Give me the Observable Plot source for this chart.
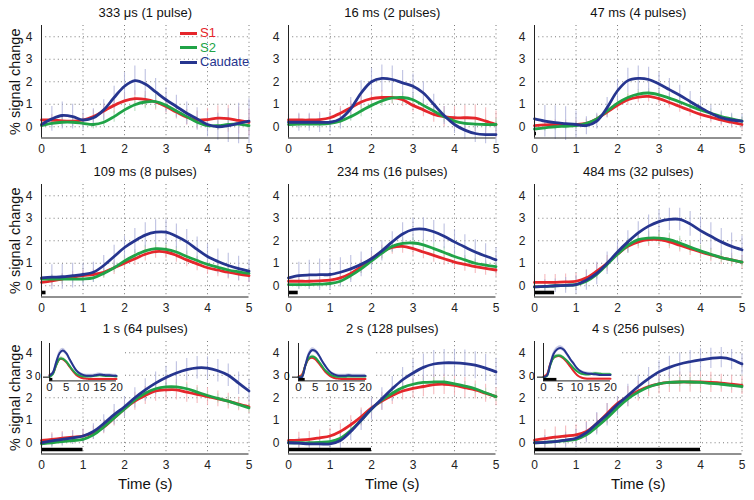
<!DOCTYPE html>
<html><head><meta charset="utf-8">
<script src="https://cdn.jsdelivr.net/npm/d3@7"></script>
<script src="https://cdn.jsdelivr.net/npm/@observablehq/plot@0.6"></script>
<style>
body{margin:0;background:#fff;font-family:"Liberation Sans",Arial,sans-serif;}
#fig{position:relative;width:754px;height:500px;overflow:hidden;background:#fff;}
#fig > svg, #fig > div{position:absolute;}
</style></head><body><div id="fig"></div>
<script>
// ---------------- data ----------------
const times = [0,0.25,0.5,0.75,1,1.25,1.5,1.75,2,2.25,2.5,2.75,3,3.25,3.5,3.75,4,4.25,4.5,4.75,5];
const insetTimes = [0,1,2,3,4,5,6,7,8,9,10,11,12,13,14,15,16,17,18,19,20];
const panelTitles = ["333 μs (1 pulse)","16 ms (2 pulses)","47 ms (4 pulses)","109 ms (8 pulses)","234 ms (16 pulses)","484 ms (32 pulses)","1 s (64 pulses)","2 s (128 pulses)","4 s (256 pulses)"];
const stimDurations = [0.000333,0.016,0.047,0.109,0.234,0.484,1,2,4];
const seriesNames = ["S1","S2","Caudate"];
const xTicks = [0,1,2,3,4,5];
const yTicks = [0,1,2,3,4];
const insetXTicks = [0,5,10,15,20];

const s1 = [
 [0.30,0.30,0.26,0.25,0.30,0.45,0.70,0.95,1.15,1.25,1.22,1.10,0.90,0.65,0.42,0.30,0.32,0.38,0.36,0.28,0.20],
 [0.30,0.30,0.30,0.32,0.40,0.60,0.85,1.10,1.25,1.30,1.30,1.20,0.95,0.75,0.55,0.45,0.40,0.40,0.38,0.25,0.10],
 [0.05,0.08,0.10,0.10,0.10,0.15,0.35,0.65,0.95,1.20,1.32,1.35,1.25,1.08,0.90,0.72,0.55,0.42,0.30,0.20,0.10],
 [0.15,0.22,0.30,0.38,0.45,0.50,0.60,0.80,1.00,1.20,1.40,1.52,1.50,1.35,1.15,0.97,0.80,0.70,0.60,0.52,0.45],
 [0.20,0.20,0.20,0.22,0.25,0.35,0.55,0.85,1.20,1.50,1.70,1.75,1.65,1.50,1.35,1.20,1.05,0.95,0.85,0.77,0.70],
 [0.15,0.15,0.15,0.17,0.20,0.35,0.65,1.00,1.40,1.75,1.95,2.05,2.05,1.95,1.80,1.65,1.50,1.37,1.25,1.15,1.05],
 [0.10,0.15,0.20,0.25,0.30,0.45,0.70,1.10,1.50,1.85,2.10,2.30,2.35,2.35,2.25,2.15,2.05,1.95,1.85,1.72,1.60],
 [0.10,0.12,0.15,0.22,0.30,0.50,0.80,1.15,1.55,1.85,2.10,2.30,2.42,2.50,2.58,2.60,2.55,2.45,2.35,2.20,2.05],
 [0.12,0.18,0.25,0.30,0.35,0.50,0.85,1.30,1.75,2.05,2.30,2.50,2.62,2.68,2.70,2.70,2.70,2.68,2.65,2.60,2.55]
];
const s2 = [
 [0.05,0.15,0.20,0.20,0.15,0.10,0.20,0.45,0.75,0.98,1.10,1.12,0.95,0.70,0.45,0.20,0.05,0.05,0.10,0.12,0.05],
 [0.10,0.12,0.12,0.12,0.15,0.25,0.45,0.70,0.95,1.15,1.28,1.30,1.20,0.95,0.70,0.45,0.25,0.15,0.12,0.10,0.10],
 [-0.10,-0.05,0.00,0.02,0.05,0.15,0.35,0.70,1.05,1.30,1.45,1.50,1.42,1.27,1.10,0.92,0.75,0.60,0.45,0.35,0.25],
 [0.30,0.30,0.30,0.30,0.30,0.35,0.55,0.80,1.10,1.35,1.55,1.65,1.62,1.50,1.30,1.12,0.95,0.82,0.70,0.62,0.55],
 [0.05,0.05,0.05,0.07,0.10,0.20,0.45,0.75,1.10,1.45,1.75,1.88,1.90,1.82,1.65,1.48,1.30,1.15,1.00,0.92,0.85],
 [-0.05,-0.03,0.00,0.02,0.05,0.20,0.50,0.95,1.40,1.80,2.05,2.12,2.12,2.05,1.90,1.72,1.55,1.40,1.25,1.15,1.05],
 [-0.05,0.00,0.05,0.10,0.15,0.35,0.70,1.10,1.50,1.90,2.20,2.40,2.48,2.48,2.40,2.25,2.10,1.97,1.85,1.70,1.55],
 [0.00,0.00,0.00,0.02,0.05,0.20,0.55,1.00,1.50,1.90,2.20,2.45,2.60,2.68,2.70,2.70,2.62,2.52,2.40,2.22,2.05],
 [0.00,0.02,0.05,0.10,0.15,0.35,0.70,1.10,1.55,1.95,2.25,2.48,2.62,2.68,2.70,2.70,2.68,2.64,2.60,2.55,2.50]
];
const caudate = [
 [0.10,0.35,0.50,0.45,0.30,0.40,0.75,1.30,1.80,2.05,1.90,1.55,1.20,0.90,0.60,0.35,0.10,0.00,0.05,0.15,0.25],
 [0.20,0.20,0.20,0.20,0.20,0.35,0.80,1.50,2.00,2.15,2.10,1.95,1.80,1.50,1.00,0.50,0.10,-0.15,-0.30,-0.35,-0.35],
 [0.35,0.25,0.18,0.14,0.10,0.05,0.25,0.85,1.60,2.05,2.15,2.10,1.90,1.65,1.40,1.12,0.85,0.60,0.40,0.30,0.25],
 [0.35,0.38,0.40,0.45,0.50,0.60,0.90,1.30,1.70,2.00,2.25,2.38,2.38,2.20,1.95,1.62,1.30,1.08,0.90,0.76,0.65],
 [0.35,0.45,0.48,0.49,0.50,0.60,0.75,0.95,1.20,1.55,1.95,2.30,2.50,2.52,2.40,2.20,1.95,1.72,1.50,1.32,1.15],
 [-0.05,-0.03,0.00,0.02,0.05,0.25,0.55,1.00,1.50,1.95,2.35,2.65,2.85,2.95,2.95,2.75,2.45,2.20,1.95,1.75,1.60],
 [0.00,0.08,0.15,0.22,0.30,0.50,0.85,1.25,1.60,2.00,2.35,2.65,2.90,3.10,3.25,3.33,3.32,3.20,3.00,2.65,2.30],
 [0.00,-0.02,-0.05,-0.05,-0.05,0.10,0.50,1.00,1.50,1.95,2.40,2.80,3.10,3.35,3.50,3.55,3.55,3.52,3.45,3.32,3.15],
 [0.00,0.02,0.05,0.12,0.20,0.45,0.85,1.25,1.70,2.10,2.50,2.85,3.15,3.35,3.50,3.60,3.68,3.75,3.78,3.70,3.50]
];
const s1Err = [
 [0.25,0.25,0.25,0.25,0.25,0.30,0.30,0.35,0.35,0.35,0.35,0.35,0.30,0.30,0.35,0.40,0.50,0.55,0.60,0.60,0.60],
 [0.25,0.25,0.25,0.25,0.30,0.30,0.30,0.30,0.30,0.30,0.30,0.30,0.30,0.30,0.35,0.45,0.50,0.55,0.60,0.60,0.60],
 [0.20,0.20,0.20,0.20,0.20,0.20,0.20,0.25,0.25,0.25,0.25,0.25,0.25,0.25,0.25,0.25,0.25,0.25,0.25,0.25,0.25],
 [0.25,0.25,0.25,0.25,0.25,0.25,0.25,0.30,0.30,0.30,0.30,0.30,0.30,0.30,0.30,0.30,0.30,0.30,0.30,0.30,0.30],
 [0.25,0.25,0.25,0.25,0.25,0.25,0.25,0.30,0.30,0.30,0.30,0.30,0.30,0.30,0.30,0.30,0.30,0.30,0.30,0.30,0.30],
 [0.35,0.35,0.35,0.35,0.35,0.35,0.35,0.35,0.35,0.30,0.30,0.30,0.30,0.30,0.30,0.30,0.30,0.30,0.30,0.30,0.30],
 [0.30,0.30,0.30,0.30,0.30,0.30,0.30,0.35,0.35,0.40,0.40,0.45,0.45,0.45,0.45,0.40,0.40,0.35,0.35,0.30,0.30],
 [0.35,0.35,0.35,0.35,0.35,0.35,0.40,0.40,0.40,0.40,0.40,0.40,0.45,0.45,0.45,0.45,0.45,0.45,0.40,0.40,0.40],
 [0.40,0.40,0.45,0.45,0.45,0.45,0.45,0.45,0.45,0.45,0.45,0.45,0.45,0.45,0.45,0.45,0.45,0.45,0.40,0.40,0.40]
];
const s2Err = [
 [0.20,0.20,0.20,0.20,0.20,0.20,0.20,0.25,0.25,0.30,0.30,0.30,0.25,0.25,0.20,0.20,0.20,0.20,0.20,0.20,0.20],
 [0.20,0.20,0.20,0.20,0.20,0.20,0.20,0.25,0.25,0.25,0.25,0.25,0.25,0.25,0.25,0.25,0.25,0.25,0.25,0.25,0.25],
 [0.15,0.15,0.15,0.15,0.15,0.15,0.15,0.20,0.20,0.20,0.20,0.20,0.20,0.20,0.20,0.20,0.20,0.20,0.20,0.20,0.20],
 [0.20,0.20,0.20,0.20,0.20,0.20,0.20,0.20,0.25,0.25,0.25,0.25,0.25,0.25,0.25,0.20,0.20,0.20,0.20,0.20,0.20],
 [0.20,0.20,0.20,0.20,0.20,0.20,0.20,0.20,0.20,0.25,0.25,0.25,0.25,0.25,0.25,0.25,0.25,0.20,0.20,0.20,0.20],
 [0.20,0.20,0.20,0.20,0.20,0.20,0.20,0.20,0.25,0.30,0.30,0.30,0.30,0.30,0.30,0.25,0.25,0.25,0.20,0.20,0.20],
 [0.15,0.15,0.15,0.15,0.15,0.15,0.20,0.20,0.20,0.20,0.20,0.20,0.20,0.20,0.20,0.20,0.20,0.20,0.20,0.20,0.20],
 [0.15,0.15,0.15,0.15,0.15,0.15,0.20,0.20,0.20,0.20,0.20,0.20,0.20,0.20,0.20,0.20,0.20,0.20,0.20,0.20,0.20],
 [0.15,0.15,0.15,0.15,0.15,0.20,0.20,0.20,0.20,0.20,0.20,0.20,0.20,0.20,0.20,0.20,0.20,0.20,0.20,0.20,0.20]
];
const caudateErr = [
 [0.50,0.55,0.60,0.55,0.45,0.40,0.45,0.50,0.60,0.65,0.65,0.60,0.55,0.50,0.50,0.50,0.55,0.60,0.75,0.90,1.00],
 [0.35,0.40,0.40,0.45,0.45,0.45,0.50,0.55,0.60,0.60,0.60,0.55,0.55,0.50,0.45,0.40,0.40,0.40,0.40,0.40,0.40],
 [0.65,0.70,0.75,0.75,0.60,0.40,0.35,0.45,0.50,0.55,0.55,0.55,0.50,0.50,0.45,0.45,0.40,0.35,0.30,0.30,0.30],
 [0.50,0.55,0.55,0.55,0.50,0.45,0.45,0.50,0.50,0.55,0.55,0.55,0.55,0.55,0.55,0.55,0.55,0.55,0.55,0.55,0.50],
 [0.55,0.60,0.65,0.70,0.70,0.65,0.60,0.55,0.50,0.45,0.45,0.50,0.50,0.50,0.50,0.55,0.55,0.55,0.55,0.55,0.55],
 [0.30,0.30,0.30,0.35,0.40,0.45,0.50,0.50,0.50,0.50,0.50,0.50,0.50,0.50,0.50,0.55,0.60,0.60,0.60,0.60,0.60],
 [0.30,0.30,0.30,0.30,0.30,0.35,0.40,0.45,0.45,0.45,0.50,0.50,0.50,0.50,0.50,0.50,0.50,0.50,0.50,0.50,0.50],
 [0.25,0.25,0.25,0.25,0.30,0.35,0.40,0.45,0.50,0.50,0.55,0.55,0.60,0.60,0.60,0.60,0.60,0.60,0.60,0.60,0.60],
 [0.30,0.30,0.30,0.35,0.40,0.45,0.50,0.50,0.50,0.50,0.50,0.50,0.50,0.50,0.50,0.50,0.50,0.45,0.45,0.45,0.45]
];

// insets (0-20 s) for the 1 s, 2 s and 4 s panels
const insetS1 = [
 [0.30,0.50,1.60,2.40,2.40,2.00,1.40,0.80,0.30,0.00,-0.15,-0.20,-0.25,-0.25,-0.25,-0.25,-0.25,-0.25,-0.25,-0.25,-0.25],
 [0.10,0.30,1.50,2.40,2.60,2.40,1.90,1.30,0.70,0.30,0.00,-0.15,-0.20,-0.25,-0.25,-0.25,-0.25,-0.25,-0.25,-0.25,-0.25],
 [0.10,0.35,1.75,2.60,2.80,2.80,2.50,2.00,1.40,0.80,0.30,0.00,-0.15,-0.20,-0.20,-0.20,-0.20,-0.20,-0.20,-0.20,-0.20]
];
const insetS2 = [
 [0.00,0.40,1.60,2.45,2.45,2.10,1.50,0.90,0.45,0.20,0.10,0.10,0.10,0.15,0.20,0.25,0.20,0.15,0.15,0.15,0.10],
 [0.00,0.10,1.50,2.50,2.75,2.60,2.10,1.50,0.90,0.50,0.20,0.10,0.05,0.05,0.05,0.10,0.10,0.10,0.10,0.10,0.10],
 [0.00,0.15,1.55,2.60,2.85,2.85,2.60,2.20,1.70,1.20,0.80,0.50,0.40,0.35,0.40,0.50,0.50,0.45,0.40,0.40,0.40]
];
const insetCaudate = [
 [0.20,0.60,2.00,3.20,3.55,3.20,2.40,1.60,0.90,0.50,0.30,0.20,0.20,0.20,0.30,0.35,0.30,0.25,0.25,0.20,0.20],
 [0.00,0.00,1.50,3.00,3.60,3.50,3.00,2.20,1.50,0.90,0.50,0.30,0.20,0.20,0.20,0.25,0.20,0.20,0.20,0.20,0.20],
 [0.00,0.20,1.70,3.10,3.70,3.90,3.70,3.10,2.40,1.80,1.20,0.80,0.60,0.50,0.45,0.40,0.35,0.30,0.30,0.30,0.30]
];
const insetS1Err = [
 [0.10,0.10,0.15,0.20,0.20,0.20,0.20,0.15,0.15,0.10,0.10,0.10,0.10,0.10,0.10,0.10,0.10,0.10,0.10,0.10,0.10],
 [0.10,0.10,0.15,0.20,0.20,0.20,0.20,0.15,0.15,0.10,0.10,0.10,0.10,0.10,0.10,0.10,0.10,0.10,0.10,0.10,0.10],
 [0.10,0.10,0.15,0.20,0.20,0.20,0.20,0.20,0.15,0.15,0.10,0.10,0.10,0.10,0.10,0.10,0.10,0.10,0.10,0.10,0.10]
];
const insetS2Err = [
 [0.10,0.10,0.15,0.20,0.20,0.20,0.20,0.20,0.15,0.15,0.15,0.15,0.15,0.15,0.15,0.15,0.15,0.15,0.15,0.15,0.15],
 [0.10,0.10,0.15,0.20,0.20,0.20,0.20,0.20,0.15,0.15,0.15,0.15,0.15,0.15,0.15,0.15,0.15,0.15,0.15,0.15,0.15],
 [0.10,0.10,0.15,0.20,0.20,0.20,0.20,0.20,0.20,0.15,0.15,0.15,0.15,0.15,0.15,0.15,0.15,0.15,0.15,0.15,0.15]
];
const insetCaudateErr = [
 [0.10,0.15,0.25,0.30,0.30,0.30,0.25,0.25,0.20,0.20,0.20,0.20,0.20,0.20,0.20,0.20,0.20,0.20,0.20,0.20,0.20],
 [0.10,0.15,0.25,0.30,0.30,0.30,0.30,0.25,0.25,0.20,0.20,0.20,0.20,0.20,0.20,0.20,0.20,0.20,0.20,0.20,0.20],
 [0.10,0.15,0.25,0.30,0.30,0.30,0.30,0.30,0.25,0.25,0.20,0.20,0.20,0.20,0.20,0.20,0.20,0.20,0.20,0.20,0.20]
];

// ---------------- styling / layout ----------------
const X_DOMAIN = [0,5], Y_DOMAIN = [-0.5,4.5], INSET_X_DOMAIN = [0,20], STIM_Y = -0.3;
const FONT = "'Liberation Sans', Arial, Helvetica, sans-serif";
const series = [
  {name: seriesNames[0], mean: s1, err: s1Err, imean: insetS1, ierr: insetS1Err, color: "#e5262b", light: "#f3a9ae"},
  {name: seriesNames[1], mean: s2, err: s2Err, imean: insetS2, ierr: insetS2Err, color: "#20a347", light: "#a8dab3"},
  {name: seriesNames[2], mean: caudate, err: caudateErr, imean: insetCaudate, ierr: insetCaudateErr, color: "#26358f", light: "#aeb1da"}
];
const colX0 = [40.7, 288.3, 534.3];   // pixel of t=0 per column
const rowYTop = [25.4, 183.7, 341.4];  // pixel of top of frame per row
const FW = 207.5, FH = 112.5;          // frame size
const insetLeft = [48.5, 298.3, 543.3], INSET_TOP = 343.3, INSET_W = 67, INSET_H = 37.4;

const fig = document.getElementById("fig");

function makePanel(i) {
  const r = Math.floor(i / 3), c = i % 3;
  const ml = 40, mr = 6, mt = 25, mb = r === 2 ? 46 : 22;
  const marks = [];
  marks.push(Plot.ruleY(yTicks, {stroke: "#6a6a6a", strokeWidth: 0.9, strokeDasharray: "1,3.2"}));
  marks.push(Plot.ruleX(xTicks.filter(d => d > X_DOMAIN[0]), {stroke: "#6a6a6a", strokeWidth: 0.9, strokeDasharray: "1,3.2"}));
  for (const s of series) {
    const rows = times.map((t, j) => ({t, lo: s.mean[i][j] - s.err[i][j], hi: s.mean[i][j] + s.err[i][j]}));
    marks.push(Plot.ruleX(rows, {x: "t", y1: "lo", y2: "hi", stroke: s.light, strokeWidth: 1.1, strokeOpacity: 0.8}));
  }
  for (const s of series) {
    const rows = times.map((t, j) => ({t, v: s.mean[i][j]}));
    marks.push(Plot.line(rows, {x: "t", y: "v", stroke: s.color, strokeWidth: 2.8, curve: "catmull-rom"}));
  }
  marks.push(Plot.ruleY([{x1: 0, x2: stimDurations[i], y: STIM_Y}], {x1: "x1", x2: "x2", y: "y", stroke: "#000", strokeWidth: 3.6}));
  marks.push(Plot.ruleX([X_DOMAIN[0]], {stroke: "#222", strokeWidth: 1}));
  marks.push(Plot.ruleY([Y_DOMAIN[0]], {stroke: "#222", strokeWidth: 1}));
  marks.push(Plot.axisX(xTicks, {tickSize: 0, tickPadding: 6, fontSize: 12, label: null, fill: "#222"}));
  marks.push(Plot.axisY(yTicks, {tickSize: 0, tickPadding: 9, fontSize: 12, label: null, fill: "#222"}));
  marks.push(Plot.text([panelTitles[i]], {text: d => d, frameAnchor: "top", lineAnchor: "middle", textAnchor: "middle", dy: -12.5, fontSize: 13, fill: "#111"}));
  if (c === 0) marks.push(Plot.text(["% signal change"], {text: d => d, frameAnchor: "left", textAnchor: "middle", lineAnchor: "middle", rotate: -90, dx: -26, fontSize: 14.5, fill: "#111"}));
  if (r === 2) marks.push(Plot.text(["Time (s)"], {text: d => d, frameAnchor: "bottom", textAnchor: "middle", lineAnchor: "middle", dy: 30, fontSize: 15, fill: "#111"}));
  const svg = Plot.plot({
    width: ml + FW + mr, height: mt + FH + mb,
    marginLeft: ml, marginRight: mr, marginTop: mt, marginBottom: mb,
    x: {domain: X_DOMAIN}, y: {domain: Y_DOMAIN},
    style: {background: "transparent", fontFamily: FONT, overflow: "visible"},
    marks
  });
  svg.style.left = (colX0[c] - ml) + "px";
  svg.style.top = (rowYTop[r] - mt) + "px";
  fig.appendChild(svg);
}

function makeInset(k) {
  const i = 6 + k;
  const ml = 6, mr = 9, mt = 3, mb = 15;
  const marks = [];
  for (const s of series) {
    const rows = insetTimes.map((t, j) => ({t, lo: s.imean[k][j] - s.ierr[k][j], hi: s.imean[k][j] + s.ierr[k][j]}));
    marks.push(Plot.areaY(rows, {x: "t", y1: "lo", y2: "hi", fill: s.light, fillOpacity: 0.7, curve: "catmull-rom"}));
  }
  for (const s of series) {
    const rows = insetTimes.map((t, j) => ({t, v: s.imean[k][j]}));
    marks.push(Plot.line(rows, {x: "t", y: "v", stroke: s.color, strokeWidth: 2, curve: "catmull-rom"}));
  }
  marks.push(Plot.ruleY([{x1: 0, x2: stimDurations[i], y: STIM_Y}], {x1: "x1", x2: "x2", y: "y", stroke: "#000", strokeWidth: 3}));
  marks.push(Plot.ruleX([INSET_X_DOMAIN[0]], {stroke: "#222", strokeWidth: 1}));
  marks.push(Plot.ruleY([Y_DOMAIN[0]], {stroke: "#222", strokeWidth: 1}));
  marks.push(Plot.axisX(insetXTicks, {tickSize: 0, tickPadding: 2, fontSize: 11.5, label: null, fill: "#222"}));
  const svg = Plot.plot({
    width: ml + INSET_W + mr, height: mt + INSET_H + mb,
    marginLeft: ml, marginRight: mr, marginTop: mt, marginBottom: mb,
    x: {domain: INSET_X_DOMAIN}, y: {domain: Y_DOMAIN},
    style: {background: "#fff", fontFamily: FONT, overflow: "visible"},
    marks
  });
  svg.style.left = (insetLeft[k] - ml) + "px";
  svg.style.top = (INSET_TOP - mt) + "px";
  fig.appendChild(svg);
}

for (let i = 0; i < 9; i++) makePanel(i);
for (let k = 0; k < 3; k++) makeInset(k);

// legend (first panel)
const leg = document.createElement("div");
leg.style.left = "180px"; leg.style.top = "26px";
leg.style.fontFamily = FONT; leg.style.fontSize = "13px"; leg.style.lineHeight = "14.5px";
for (const s of series) {
  const row = document.createElement("div");
  row.style.display = "flex"; row.style.alignItems = "center"; row.style.height = "14.5px";
  const bar = document.createElement("span");
  bar.style.display = "inline-block"; bar.style.width = "17px"; bar.style.height = "3px";
  bar.style.background = s.color; bar.style.marginRight = "3px";
  const lab = document.createElement("span");
  lab.textContent = s.name; lab.style.color = s.color;
  row.appendChild(bar); row.appendChild(lab);
  leg.appendChild(row);
}
fig.appendChild(leg);
</script></body></html>
